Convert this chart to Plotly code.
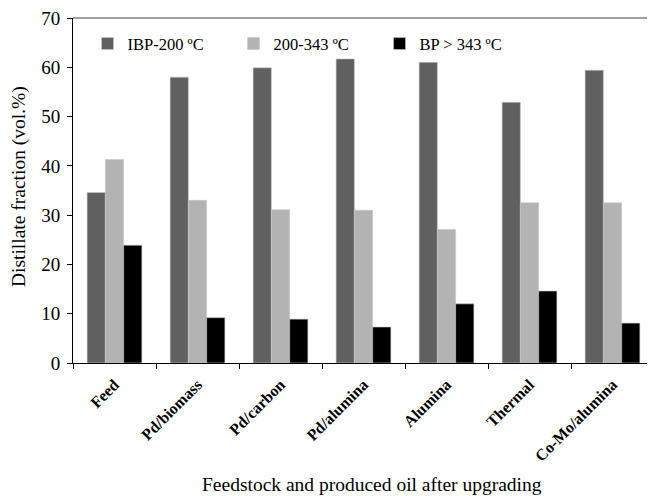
import plotly.graph_objects as go

categories = ["Feed", "Pd/biomass", "Pd/carbon", "Pd/alumina", "Alumina", "Thermal", "Co-Mo/alumina"]
series_names = ["IBP-200 ºC", "200-343 ºC", "BP > 343 ºC"]
ibp_200 = [34.6, 58.0, 59.9, 61.7, 61.0, 52.9, 59.4]
mid_200_343 = [41.3, 33.0, 31.1, 31.0, 27.1, 32.5, 32.5]
bp_343 = [23.9, 9.2, 8.9, 7.3, 12.0, 14.6, 8.1]
y_ticks = [0, 10, 20, 30, 40, 50, 60, 70]

colors = ["#606060", "#b3b3b3", "#000000"]
serif = "Liberation Serif, Times New Roman, serif"

fig = go.Figure()
for name, vals, col in zip(series_names, [ibp_200, mid_200_343, bp_343], colors):
    fig.add_trace(go.Bar(
        x=categories, y=vals, name=name,
        marker=dict(color=col, line=dict(color="#c8c8c8", width=0.6)),
    ))

fig.update_layout(
    width=647, height=488,
    margin=dict(l=65, r=1, t=10, b=133),
    paper_bgcolor="white", plot_bgcolor="white",
    barmode="group", bargap=0.34, bargroupgap=0,
    font=dict(family=serif, color="black"),
    showlegend=True,
    legend=dict(
        orientation="h", x=0.025, y=0.925, xanchor="left", yanchor="middle",
        font=dict(family=serif, size=16.5, color="black"),
        bgcolor="rgba(0,0,0,0)", entrywidth=101, entrywidthmode="pixels",
        itemwidth=30, traceorder="normal",
    ),
    xaxis=dict(
        type="category", showline=True, linecolor="black", linewidth=1,
        ticks="outside", tickson="boundaries", ticklen=5, tickcolor="black",
        tickangle=-45, tickfont=dict(family=serif, size=16, color="black", weight="bold"),
        showgrid=False, zeroline=False, ticklabelstandoff=5,
    ),
    yaxis=dict(
        range=[0, 70], tickvals=y_ticks, showline=True, linecolor="black", linewidth=1,
        ticks="outside", ticklen=5, tickcolor="black",
        tickfont=dict(family=serif, size=19, color="black"),
        showgrid=False, zeroline=False, ticklabelstandoff=3,
        ticklabeloverflow="allow",
    ),
    shapes=[
        dict(type="line", xref="paper", yref="paper", x0=0, x1=1, y0=1, y1=1,
             line=dict(color="#808080", width=1.5)),
        dict(type="line", xref="paper", yref="paper", x0=1, x1=1, y0=0, y1=1,
             line=dict(color="#808080", width=1)),
    ],
    annotations=[
        dict(text="Feedstock and produced oil after upgrading", xref="paper", yref="paper",
             x=0.5, y=0, xshift=8, yshift=-121, xanchor="center", yanchor="middle", showarrow=False,
             font=dict(family=serif, size=19.5, color="black")),
        dict(text="Distillate fraction (vol.%)", xref="paper", yref="paper",
             x=0, y=0.51, xshift=-54, xanchor="center", yanchor="middle", textangle=-90,
             showarrow=False, font=dict(family=serif, size=19.5, color="black")),
    ],
)

fig.write_html("out.html")
